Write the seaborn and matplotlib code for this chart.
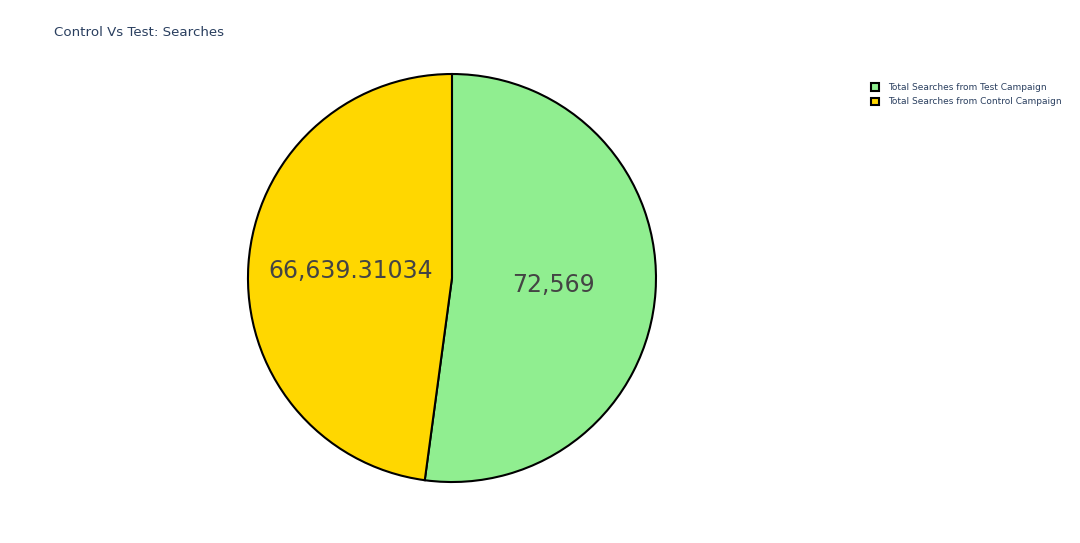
import matplotlib
matplotlib.use("Agg")
import matplotlib.pyplot as plt
from matplotlib.patches import Patch
import seaborn as sns

# data
labels = ["Total Searches from Test Campaign", "Total Searches from Control Campaign"]
values = [72569, 66639.31034]
colors = ["#90ee90", "#ffd700"]

sns.set_theme(style="white")
plt.rcParams["font.family"] = ["DejaVu Sans"]

# slice texts, in the same order as the values
value_texts = iter([f"{v:,.5f}".rstrip("0").rstrip(".") for v in values])


def fmt(pct):
    return next(value_texts)


fig = plt.figure(figsize=(10.8, 5.43), dpi=100)
ax = fig.add_axes([0.2296, 0.1123, 0.3778, 0.7514])
wedges, texts, autotexts = ax.pie(
    values,
    colors=colors,
    startangle=90,
    counterclock=False,
    autopct=fmt,
    pctdistance=0.5,
    wedgeprops=dict(edgecolor="black", linewidth=1.5),
    textprops=dict(fontsize=17, color="#444444"),
)
ax.set_xlim(-1, 1)
ax.set_ylim(-1, 1)
ax.set_aspect("equal")
ax.axis("off")

fig.text(54 / 1080, 1 - 33 / 543, "Control Vs Test: Searches", fontsize=9.6,
         color="#2a3f5f", va="center", ha="left")

handles = [Patch(facecolor=c, edgecolor="black", linewidth=1.5) for c in colors]
fig.legend(handles, labels, loc="upper left", bbox_to_anchor=(871 / 1080, 1 - 83 / 543),
           frameon=False, fontsize=6.5, labelcolor="#2a3f5f",
           handlelength=0.9, handleheight=0.9, handletextpad=1.0,
           labelspacing=0.6, borderaxespad=0, borderpad=0)

fig.savefig("out.png", dpi=100)
